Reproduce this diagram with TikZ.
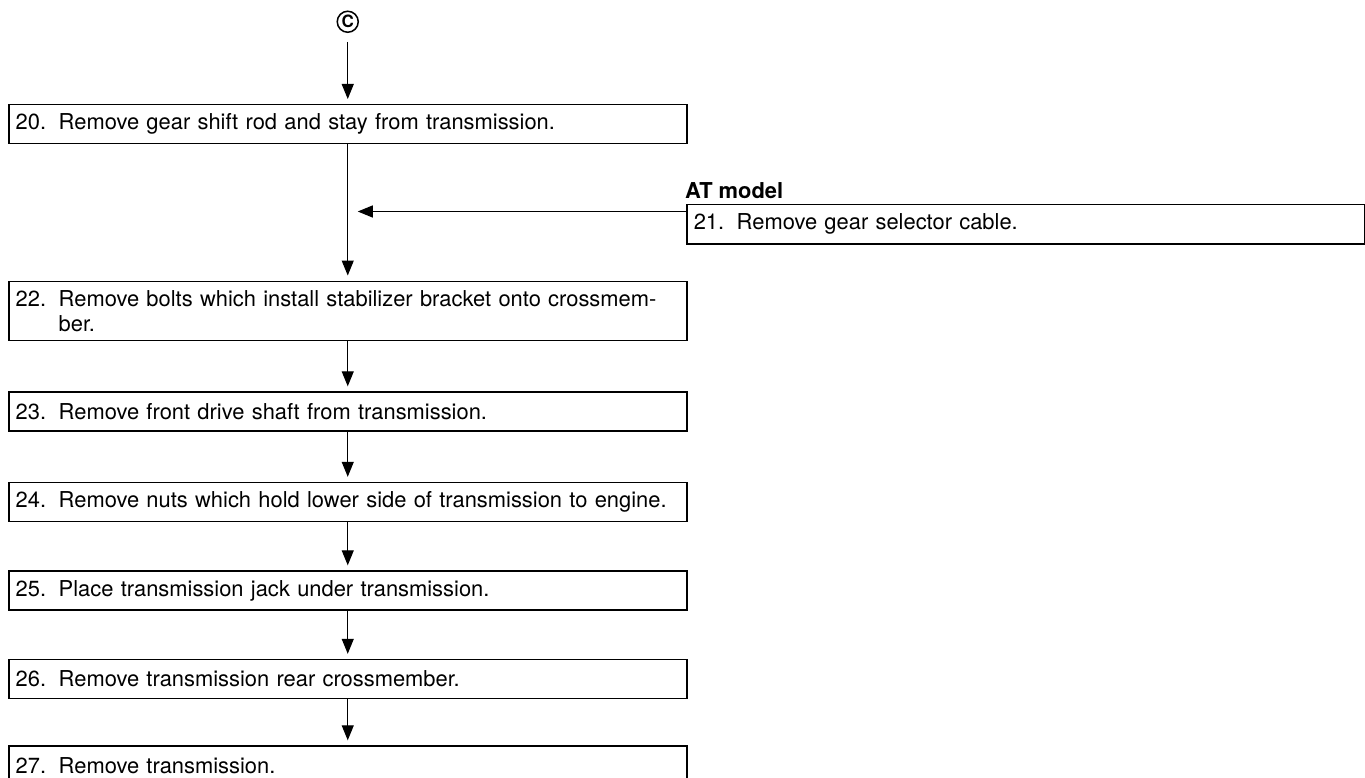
\documentclass[tikz,border=0pt]{standalone}
\usepackage{fontspec}
\setmainfont{TeX Gyre Heros}
\usetikzlibrary{arrows.meta,positioning}

\newcommand\stepno[1]{\makebox[43pt][l]{#1}}

\begin{document}
\begin{tikzpicture}[
  x=1pt, y=1pt,
  node distance=48pt,
  box/.style={draw, line width=1.5pt, anchor=north west, text width=664pt,
              inner xsep=7pt, inner ysep=9pt, minimum height=39pt, align=left,
              font=\fontsize{21.9}{25}\selectfont},
  lbl/.style={inner sep=0pt, font=\fontsize{21.9}{25}\selectfont\bfseries},
  conn/.style={circle, draw, line width=1.5pt, inner sep=0pt, minimum size=21pt,
              font=\fontsize{17}{17}\selectfont\bfseries},
  arr/.style={-{Triangle[length=15pt,width=12pt]}, line width=1.1pt, shorten >=5pt},
]
\useasboundingbox (0,0) rectangle (1365,-778);

\node[box] (b20) at (8,-104) {\stepno{20.}Remove gear shift rod and stay from transmission.};
\node[conn, above=71pt of b20] (c) {C};
\node[box] (b21) at (686,-204) {\stepno{21.}Remove gear selector cable.};
\node[lbl, above right=5pt and -1pt of b21.north west] (at) {AT model};
\node[box, below=136pt of b20] (b22) {\stepno{22.}Remove bolts which install stabilizer bracket onto crossmem-\\
  \hspace*{43pt}ber.};
\node[box, below=50pt of b22] (b23) {\stepno{23.}Remove front drive shaft from transmission.};
\node[box, below=50pt of b23] (b24) {\stepno{24.}Remove nuts which hold lower side of transmission to engine.};
\node[box, below=of b24] (b25) {\stepno{25.}Place transmission jack under transmission.};
\node[box, below=of b25] (b26) {\stepno{26.}Remove transmission rear crossmember.};
\node[box, below=46pt of b26] (b27) {\stepno{27.}Remove transmission.};

\coordinate (b21in) at ([yshift=-7.5pt]b21.north west);
\coordinate (join) at ([xshift=10pt]b20.south |- b21in);

\draw[arr, shorten <=9pt] (c) -- (b20);
\draw[arr] (b20) -- (b22);
\draw[arr, shorten >=0pt] (b21in) -- (join);
\draw[arr] (b22) -- (b23);
\draw[arr] (b23) -- (b24);
\draw[arr] (b24) -- (b25);
\draw[arr] (b25) -- (b26);
\draw[arr] (b26) -- (b27);
\end{tikzpicture}
\end{document}
